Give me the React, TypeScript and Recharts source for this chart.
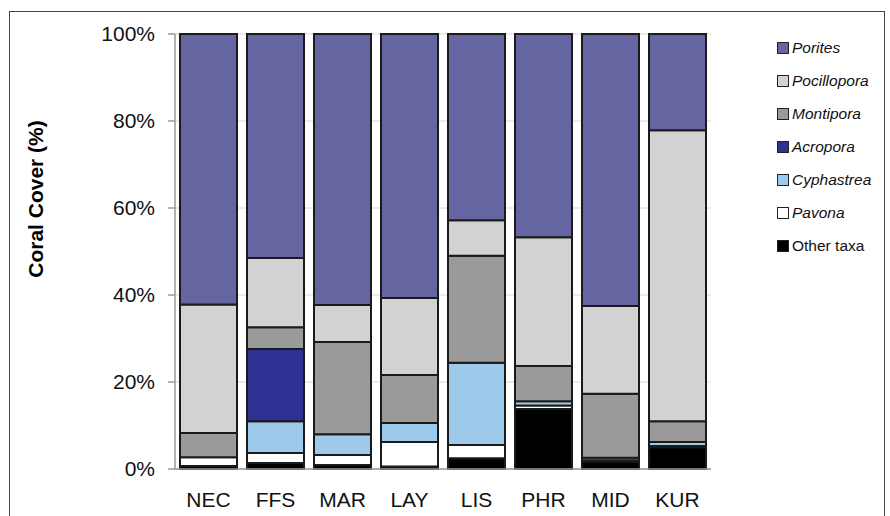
import { BarChart, Bar, XAxis, YAxis, CartesianGrid } from "recharts";

const SITES = ["NEC", "FFS", "MAR", "LAY", "LIS", "PHR", "MID", "KUR"];

// stacked bottom -> top
const OTHER = [0.7, 1.4, 0.9, 0.6, 2.5, 13.8, 1.7, 5.0];
const PAVONA = [2.0, 2.3, 2.3, 5.6, 3.0, 0.8, 0.3, 0.3];
const CYPHASTREA = [0, 7.3, 4.8, 4.4, 18.9, 1.0, 0.6, 0.9];
const ACROPORA = [0, 16.6, 0, 0, 0, 0, 0, 0];
const MONTIPORA = [5.6, 5.0, 21.2, 11.0, 24.6, 8.1, 14.7, 4.8];
const POCILLOPORA = [29.5, 15.9, 8.5, 17.7, 8.2, 29.6, 20.2, 66.9];
const PORITES = [62.2, 51.5, 62.3, 60.7, 42.8, 46.7, 62.5, 22.1];

const Y_TICKS = [0, 20, 40, 60, 80, 100];

const SERIES = [
  { key: "other", name: "Other taxa", values: OTHER, color: "#000000", italic: false },
  { key: "pavona", name: "Pavona", values: PAVONA, color: "#ffffff", italic: true },
  { key: "cyphastrea", name: "Cyphastrea", values: CYPHASTREA, color: "#9dcaea", italic: true },
  { key: "acropora", name: "Acropora", values: ACROPORA, color: "#2e3192", italic: true },
  { key: "montipora", name: "Montipora", values: MONTIPORA, color: "#9a9a9a", italic: true },
  { key: "pocillopora", name: "Pocillopora", values: POCILLOPORA, color: "#d2d2d2", italic: true },
  { key: "porites", name: "Porites", values: PORITES, color: "#6565a1", italic: true },
];

const data = SITES.map((site, i) => {
  const row: Record<string, string | number> = { site };
  SERIES.forEach((s) => (row[s.key] = s.values[i]));
  return row;
});

const FONT = "'Liberation Sans', Arial, sans-serif";

function YLabel() {
  return (
    <text
      x={35}
      y={199}
      transform="rotate(-90 35 199)"
      textAnchor="middle"
      dominantBaseline="central"
      fontFamily={FONT}
      fontSize={21}
      fontWeight="bold"
      fill="#000"
    >
      Coral Cover (%)
    </text>
  );
}

export default function App() {
  const legendItems = [...SERIES].reverse();
  return (
    <div style={{ position: "absolute", left: 0, top: 0, width: 890, height: 516, background: "#fff", fontFamily: FONT }}>
      <div
        style={{
          position: "absolute",
          left: 9,
          top: 11,
          width: 874,
          height: 520,
          borderLeft: "1.5px solid #444",
          borderTop: "1.5px solid #444",
          borderRight: "1.5px solid #444",
        }}
      />
      <div style={{ position: "absolute", left: 0, top: 0 }}>
        <BarChart
          width={890}
          height={516}
          data={data}
          margin={{ top: 34, right: 179, bottom: 17, left: 0 }}
          barCategoryGap={5}
        >
          <CartesianGrid vertical={false} stroke="#d8d8d8" />
          <XAxis
            dataKey="site"
            stroke="#999"
            strokeWidth={1.5}
            tickLine={false}
            tickMargin={17}
            tick={{ fill: "#111", fontSize: 21, fontFamily: FONT }}
          />
          <YAxis
            width={175}
            domain={[0, 100]}
            ticks={Y_TICKS}
            tickFormatter={(v) => `${v}%`}
            stroke="#999"
            strokeWidth={1.5}
            tickSize={7}
            tickMargin={13}
            tick={{ fill: "#111", fontSize: 21, fontFamily: FONT }}
            label={<YLabel />}
          />
          {SERIES.map((s) => (
            <Bar
              key={s.key}
              dataKey={s.key}
              name={s.name}
              stackId="a"
              fill={s.color}
              stroke="#1a1a1a"
              strokeWidth={2}
              isAnimationActive={false}
            />
          ))}
        </BarChart>
      </div>
      <div style={{ position: "absolute", left: 777, top: 31 }}>
        {legendItems.map((s) => (
          <div key={s.key} style={{ display: "flex", alignItems: "center", height: 33, fontSize: 15.5, color: "#111" }}>
            <span
              style={{
                width: 10,
                height: 10,
                background: s.color,
                border: "1.5px solid #222",
                marginRight: 3,
                display: "inline-block",
              }}
            />
            <span style={{ fontStyle: s.italic ? "italic" : "normal" }}>{s.name}</span>
          </div>
        ))}
      </div>
    </div>
  );
}
